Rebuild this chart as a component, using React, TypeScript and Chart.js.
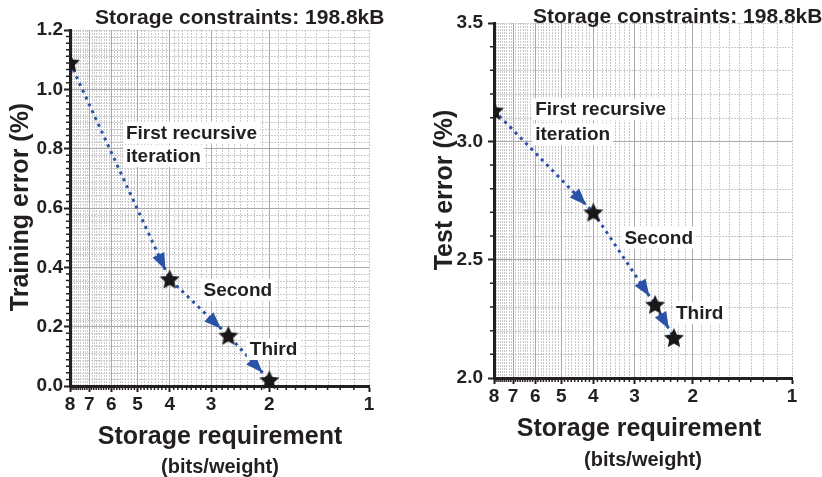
import React, { useEffect, useRef } from 'react';
import { Chart, registerables } from 'chart.js';

Chart.register(...registerables);

// ---------------- data ----------------
const bitsTicks = [8, 7, 6, 5, 4, 3, 2, 1];

const trainBits = [8, 4, 2.66, 2];
const trainError = [1.09, 0.36, 0.17, 0.02];
const trainYTicks = [0, 0.2, 0.4, 0.6, 0.8, 1.0, 1.2];

const testBits = [8, 4, 2.6, 2.28];
const testError = [3.13, 2.7, 2.31, 2.17];
const testYTicks = [2.0, 2.5, 3.0, 3.5];

const titleText = 'Storage constraints: 198.8kB';
const xTitle = 'Storage requirement';
const xSubTitle = '(bits/weight)';
const trainYTitle = 'Training error (%)';
const testYTitle = 'Test error (%)';

const trainNotes = [
  { lines: ['First recursive', 'iteration'], x: 5.42, y: 0.834 },
  { lines: ['Second'], x: 3.16, y: 0.304 },
  { lines: ['Third'], x: 2.29, y: 0.1045 },
];
const testNotes = [
  { lines: ['First recursive', 'iteration'], x: 6.0, y: 3.11 },
  { lines: ['Second'], x: 3.22, y: 2.568 },
  { lines: ['Third'], x: 2.247, y: 2.25 },
];

// ---------------- style ----------------
const FONT = "'Liberation Sans', Arial, Helvetica, sans-serif";
const TEXT = '#231f20';
const BLUE = '#2a53a8';
const MAJOR_GRID = '#a9a9a9';
const MINOR_GRID = '#cacaca';

type Note = { lines: string[]; x: number; y: number };
type PanelCfg = {
  left: number;
  bits: number[];
  err: number[];
  yTicks: number[];
  yMin: number;
  yMax: number;
  ySub: number;
  yTitle: string;
  notes: Note[];
  yWidth: number;
  padRight: number;
  padTop: number;
  xHeight: number;
  yTickPad: number;
  titleX: number;
  titleBase: number;
  yTitleX: number;
  yTitleY: number;
  xTitleX: number;
  xTitleBase: number;
  subX: number;
  subBase: number;
  noteGap: number;
};

const panels: PanelCfg[] = [
  {
    left: 0, bits: trainBits, err: trainError, yTicks: trainYTicks, yMin: 0, yMax: 1.2, ySub: 9,
    yTitle: trainYTitle, notes: trainNotes,
    yWidth: 70, padRight: 42, padTop: 30, xHeight: 91, yTickPad: 1,
    titleX: 95, titleBase: 24, yTitleX: 21, yTitleY: 207,
    xTitleX: 220, xTitleBase: 444, subX: 220, subBase: 473, noteGap: 23.5,
  },
  {
    left: 411, bits: testBits, err: testError, yTicks: testYTicks, yMin: 2, yMax: 3.5, ySub: 5,
    yTitle: testYTitle, notes: testNotes,
    yWidth: 83, padRight: 30, padTop: 23, xHeight: 99, yTickPad: 5,
    titleX: 122, titleBase: 22.5, yTitleX: 34, yTitleY: 190,
    xTitleX: 228, xTitleBase: 436, subX: 232, subBase: 466, noteGap: 25,
  },
];

function makeStar(): HTMLCanvasElement {
  const c = document.createElement('canvas');
  c.width = 24;
  c.height = 24;
  const g = c.getContext('2d')!;
  g.fillStyle = '#1a1718';
  g.beginPath();
  for (let i = 0; i < 10; i++) {
    const r = i % 2 === 0 ? 10.5 : 5;
    const a = -Math.PI / 2 + (i * Math.PI) / 5;
    const px = 12 + r * Math.cos(a);
    const py = 12.8 + r * Math.sin(a);
    if (i === 0) g.moveTo(px, py);
    else g.lineTo(px, py);
  }
  g.closePath();
  g.fill();
  return c;
}

function minorValues(majors: number[], sub: number): number[] {
  const out: number[] = [];
  const s = [...majors].sort((a, b) => a - b);
  for (let i = 0; i < s.length - 1; i++) {
    for (let j = 1; j < sub; j++) out.push(s[i] + ((s[i + 1] - s[i]) * j) / sub);
  }
  return out;
}

function Panel({ cfg }: { cfg: PanelCfg }) {
  const ref = useRef<HTMLCanvasElement>(null);
  useEffect(() => {
    const star = makeStar();
    const xMinor = minorValues(bitsTicks, 9).concat([1]);
    const yMinor = minorValues(cfg.yTicks, cfg.ySub).concat([cfg.yMax]);
    const xMinorTicks = minorValues(bitsTicks, 9);
    const pts = cfg.bits.map((b, i) => ({ x: b, y: cfg.err[i] }));

    const backPlugin = {
      id: 'minorGrid',
      beforeDraw(chart: any) {
        const { ctx, chartArea: a } = chart;
        const xs = chart.scales.x;
        const ys = chart.scales.y;
        ctx.save();
        ctx.fillStyle = '#ffffff';
        ctx.fillRect(0, 0, chart.width, chart.height);
        ctx.strokeStyle = MINOR_GRID;
        ctx.lineWidth = 1;
        ctx.setLineDash([2, 1]);
        ctx.beginPath();
        for (const v of xMinor) {
          const px = Math.round(xs.getPixelForValue(v)) + 0.5;
          ctx.moveTo(px, a.top);
          ctx.lineTo(px, a.bottom);
        }
        for (const v of yMinor) {
          const py = Math.round(ys.getPixelForValue(v)) + 0.5;
          ctx.moveTo(a.left, py);
          ctx.lineTo(a.right, py);
        }
        ctx.stroke();
        ctx.setLineDash([]);
        ctx.strokeStyle = TEXT;
        ctx.lineWidth = 1.5;
        ctx.beginPath();
        for (const v of xMinorTicks) {
          const px = xs.getPixelForValue(v);
          ctx.moveTo(px, a.bottom);
          ctx.lineTo(px, a.bottom + 4);
        }
        for (const v of minorValues(cfg.yTicks, cfg.ySub)) {
          const py = ys.getPixelForValue(v);
          ctx.moveTo(a.left - 4, py);
          ctx.lineTo(a.left, py);
        }
        ctx.stroke();
        ctx.restore();
      },
    };

    const arrowPlugin = {
      id: 'arrowHeads',
      afterDatasetDraw(chart: any, args: any) {
        if (args.index !== 0) return;
        const { ctx } = chart;
        const xs = chart.scales.x;
        const ys = chart.scales.y;
        ctx.save();
        ctx.fillStyle = BLUE;
        for (let i = 1; i < pts.length; i++) {
          const x0 = xs.getPixelForValue(pts[i - 1].x);
          const y0 = ys.getPixelForValue(pts[i - 1].y);
          const x1 = xs.getPixelForValue(pts[i].x);
          const y1 = ys.getPixelForValue(pts[i].y);
          const ang = Math.atan2(y1 - y0, x1 - x0);
          const tipOff = 10;
          const len = 17;
          const hw = 6.5;
          const tx = x1 - tipOff * Math.cos(ang);
          const ty = y1 - tipOff * Math.sin(ang);
          const bx = tx - len * Math.cos(ang);
          const by = ty - len * Math.sin(ang);
          ctx.beginPath();
          ctx.moveTo(tx, ty);
          ctx.lineTo(bx + hw * Math.sin(ang), by - hw * Math.cos(ang));
          ctx.lineTo(bx - hw * Math.sin(ang), by + hw * Math.cos(ang));
          ctx.closePath();
          ctx.fill();
        }
        ctx.restore();
      },
    };

    const textPlugin = {
      id: 'texts',
      afterDraw(chart: any) {
        const { ctx } = chart;
        const xs = chart.scales.x;
        const ys = chart.scales.y;
        ctx.save();
        ctx.fillStyle = TEXT;
        ctx.textBaseline = 'alphabetic';
        // title
        ctx.font = `bold 21px ${FONT}`;
        ctx.textAlign = 'left';
        ctx.fillText(titleText, cfg.titleX, cfg.titleBase);
        // x title
        ctx.textAlign = 'center';
        ctx.font = `bold 25px ${FONT}`;
        ctx.fillText(xTitle, cfg.xTitleX, cfg.xTitleBase);
        ctx.font = `bold 20px ${FONT}`;
        ctx.fillText(xSubTitle, cfg.subX, cfg.subBase);
        // y title
        ctx.save();
        ctx.translate(cfg.yTitleX, cfg.yTitleY);
        ctx.rotate(-Math.PI / 2);
        ctx.font = `bold 25px ${FONT}`;
        ctx.textBaseline = 'middle';
        ctx.fillText(cfg.yTitle, 0, 0);
        ctx.restore();
        // notes
        ctx.font = `bold 19px ${FONT}`;
        ctx.textAlign = 'left';
        for (const n of cfg.notes) {
          const px = xs.getPixelForValue(n.x);
          const py = ys.getPixelForValue(n.y);
          n.lines.forEach((line, i) => {
            const base = py + i * cfg.noteGap;
            const w = ctx.measureText(line).width;
            ctx.fillStyle = '#ffffff';
            ctx.fillRect(px - 3, base - 17, w + 6, 22);
          });
          ctx.fillStyle = TEXT;
          n.lines.forEach((line, i) => {
            ctx.fillText(line, px, py + i * cfg.noteGap);
          });
        }
        ctx.restore();
      },
    };

    const gridColor = (edge: number) => (c: any) =>
      c.tick && Math.abs(c.tick.value - edge) < 1e-9 ? 'rgba(0,0,0,0)' : MAJOR_GRID;

    const chart = new Chart(ref.current!, {
      type: 'scatter',
      data: {
        datasets: [
          {
            data: pts,
            showLine: true,
            borderColor: BLUE,
            borderWidth: 3,
            borderDash: [3, 4.5],
            pointRadius: 0,
            order: 1,
            clip: 0,
          } as any,
          {
            data: pts,
            showLine: false,
            pointStyle: star,
            pointRadius: 11,
            order: 0,
            clip: { left: 0, top: 20, right: 20, bottom: 20 },
          } as any,
        ],
      },
      options: {
        animation: false,
        responsive: false,
        devicePixelRatio: 1,
        events: [],
        layout: { padding: { left: 0, right: cfg.padRight, top: cfg.padTop, bottom: 0 } },
        plugins: { legend: { display: false }, tooltip: { enabled: false }, title: { display: false } },
        scales: {
          x: {
            type: 'logarithmic',
            reverse: true,
            min: 1,
            max: 8,
            position: 'bottom',
            afterBuildTicks: (s: any) => {
              s.ticks = bitsTicks.map((v) => ({ value: v }));
            },
            afterFit: (s: any) => {
              s.height = cfg.xHeight;
            },
            ticks: {
              callback: (v: any) => String(v),
              autoSkip: false,
              maxRotation: 0,
              minRotation: 0,
              padding: 1,
              color: TEXT,
              font: { family: FONT, size: 19, weight: 'bold' },
            },
            grid: { color: gridColor(1), lineWidth: 1, tickColor: TEXT, tickWidth: 2, tickLength: 6 },
            border: { display: true, color: TEXT, width: 3 },
          },
          y: {
            type: 'linear',
            min: cfg.yMin,
            max: cfg.yMax,
            afterBuildTicks: (s: any) => {
              s.ticks = cfg.yTicks.map((v) => ({ value: v }));
            },
            afterFit: (s: any) => {
              s.width = cfg.yWidth;
            },
            ticks: {
              callback: (v: any) => Number(v).toFixed(1),
              padding: cfg.yTickPad,
              color: TEXT,
              font: { family: FONT, size: 19, weight: 'bold' },
            },
            grid: { color: gridColor(cfg.yMax), lineWidth: 1, tickColor: TEXT, tickWidth: 2, tickLength: 6 },
            border: { display: true, color: TEXT, width: 3 },
          },
        },
      } as any,
      plugins: [backPlugin, arrowPlugin, textPlugin],
    });
    return () => chart.destroy();
  }, [cfg]);

  return (
    <div style={{ position: 'absolute', left: cfg.left, top: 0, width: 411, height: 477 }}>
      <canvas ref={ref} width={411} height={477} style={{ width: 411, height: 477, display: 'block' }} />
    </div>
  );
}

export default function App() {
  return (
    <div style={{ position: 'absolute', left: 0, top: 0, width: 822, height: 477, background: '#fff', overflow: 'hidden' }}>
      {panels.map((p, i) => (
        <Panel key={i} cfg={p} />
      ))}
    </div>
  );
}
